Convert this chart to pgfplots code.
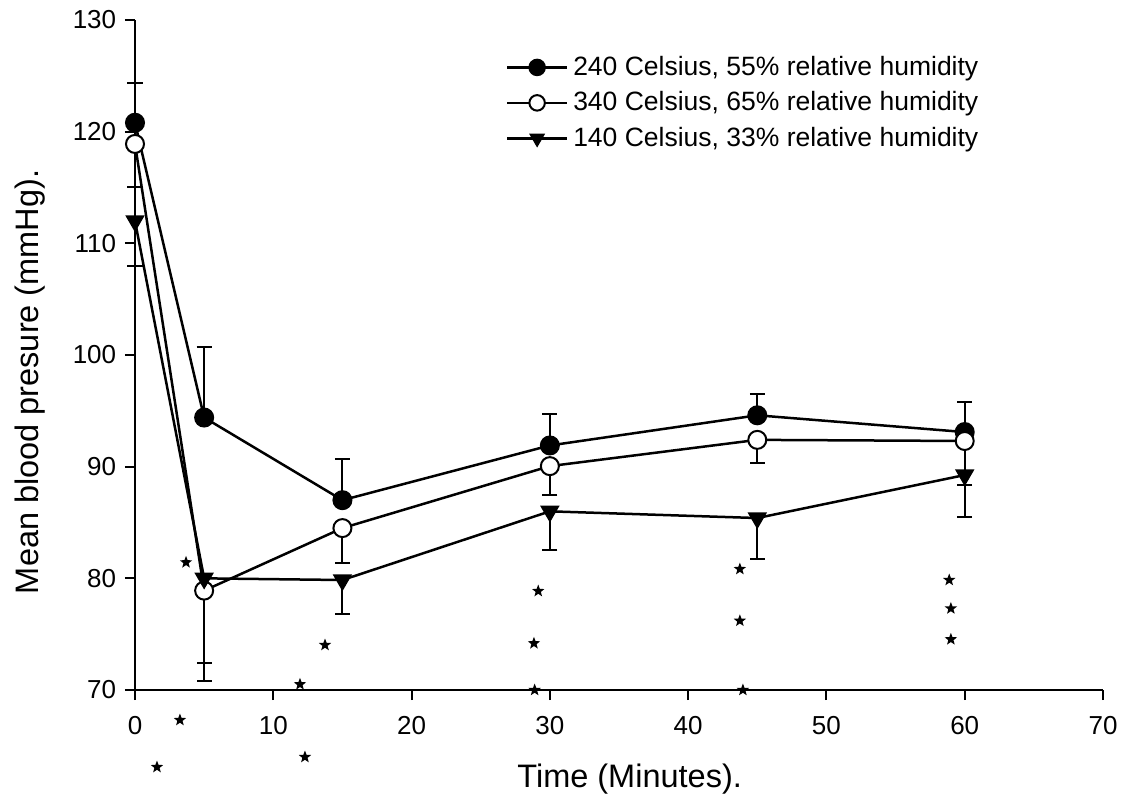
\documentclass[border=0pt]{standalone}
\usepackage{fontspec}
\setmainfont{Liberation Sans}
\usepackage{pgfplots}
\pgfplotsset{compat=1.18}
\pgfdeclareplotmark{fstar}{%
  \pgfpathmoveto{\pgfpointpolar{90}{\pgfplotmarksize}}%
  \pgfpathlineto{\pgfpointpolar{126}{0.42\pgfplotmarksize}}%
  \pgfpathlineto{\pgfpointpolar{162}{\pgfplotmarksize}}%
  \pgfpathlineto{\pgfpointpolar{198}{0.42\pgfplotmarksize}}%
  \pgfpathlineto{\pgfpointpolar{234}{\pgfplotmarksize}}%
  \pgfpathlineto{\pgfpointpolar{270}{0.42\pgfplotmarksize}}%
  \pgfpathlineto{\pgfpointpolar{306}{\pgfplotmarksize}}%
  \pgfpathlineto{\pgfpointpolar{342}{0.42\pgfplotmarksize}}%
  \pgfpathlineto{\pgfpointpolar{18}{\pgfplotmarksize}}%
  \pgfpathlineto{\pgfpointpolar{54}{0.42\pgfplotmarksize}}%
  \pgfpathclose
  \pgfusepathqfill}
\begin{document}
\begin{tikzpicture}
\begin{axis}[name=ax, scale only axis, width=387.2pt, height=268pt,
  xmin=0, xmax=70, ymin=70, ymax=130,
  axis lines=left, axis line style={-, line width=0.8pt},
  xtick={0,10,...,70}, ytick={70,80,...,130},
  tick align=outside, major tick length=4pt,
  tick style={line width=0.8pt, black},
  /pgf/number format/assume math mode=true,
  ticklabel style={font=\fontsize{10.4}{12}\selectfont},
  xticklabel style={yshift=-3pt},
  xlabel={Time (Minutes).}, ylabel={Mean blood presure (mmHg).},
  label style={font=\fontsize{13}{15}\selectfont},
  xlabel style={at={(axis description cs:0.511,-0.133)}, anchor=center},
  ylabel style={at={(axis description cs:-0.1085,0.46)}, anchor=center},
  clip=false,
  legend style={at={(axis description cs:0.375,0.962)}, anchor=north west,
    draw=none, fill=none, font=\fontsize{10.6}{13}\selectfont, row sep=1pt},
  legend cell align=left,
  legend image code/.code={\draw[mark repeat=2,mark phase=2,mark size=3.1pt] plot coordinates {(0cm,0cm) (0.42cm,0cm) (0.84cm,0cm)};},
]
\addplot[black, line width=1pt, mark=*, mark size=3.6pt, mark options={fill=black, line width=0.8pt},
  error bars/.cd, y dir=plus, y explicit, error bar style={line width=0.8pt},
  error mark options={rotate=90, mark size=3pt, line width=0.8pt}]
  coordinates {(0,120.8) +- (0,3.6) (5,94.4) +- (0,6.3) (15,87.0) +- (0,3.7)
               (30,91.9) +- (0,2.8) (45,94.6) +- (0,1.9) (60,93.1) +- (0,2.7)};
\addlegendentry{240 Celsius, 55\% relative humidity}
\addplot[black, line width=1pt, mark=*, mark size=3.6pt, mark options={fill=white, line width=0.8pt},
  error bars/.cd, y dir=minus, y explicit, error bar style={line width=0.8pt},
  error mark options={rotate=90, mark size=3pt, line width=0.8pt}]
  coordinates {(0,118.9) +- (0,3.9) (5,78.9) +- (0,6.5) (15,84.5) +- (0,3.1)
               (30,90.05) +- (0,2.55) (45,92.4) +- (0,2.1) (60,92.3) +- (0,3.9)};
\addlegendentry{340 Celsius, 65\% relative humidity}
\addplot[black, line width=1pt, mark=triangle*, mark size=3.9pt, mark options={rotate=180, fill=black, line width=0.6pt},
  error bars/.cd, y dir=minus, y explicit, error bar style={line width=0.8pt},
  error mark options={rotate=90, mark size=3pt, line width=0.8pt}]
  coordinates {(0,112.0) +- (0,4.0) (5,80.0) +- (0,9.2) (15,79.85) +- (0,3.05)
               (30,86.0) +- (0,3.5) (45,85.4) +- (0,3.7) (60,89.25) +- (0,3.75)};
\addlegendentry{140 Celsius, 33\% relative humidity}
\addplot[only marks, black, mark=fstar, mark size=2.6pt, forget plot]
  coordinates {(3.69,81.43) (3.25,67.31) (1.59,63.1) (13.74,74.03) (11.93,70.51)
               (12.29,64.0) (29.16,78.86) (28.85,74.18) (28.9,70.0) (43.74,80.83)
               (43.74,76.2) (43.96,70.0) (58.88,79.85) (59.0,77.3) (59.0,74.54)};
\end{axis}
\pgfresetboundingbox
\path[use as bounding box] ([xshift=-54pt,yshift=-46.8pt]ax.south west) rectangle ([xshift=8.4pt,yshift=8pt]ax.north east);
\end{tikzpicture}
\end{document}
